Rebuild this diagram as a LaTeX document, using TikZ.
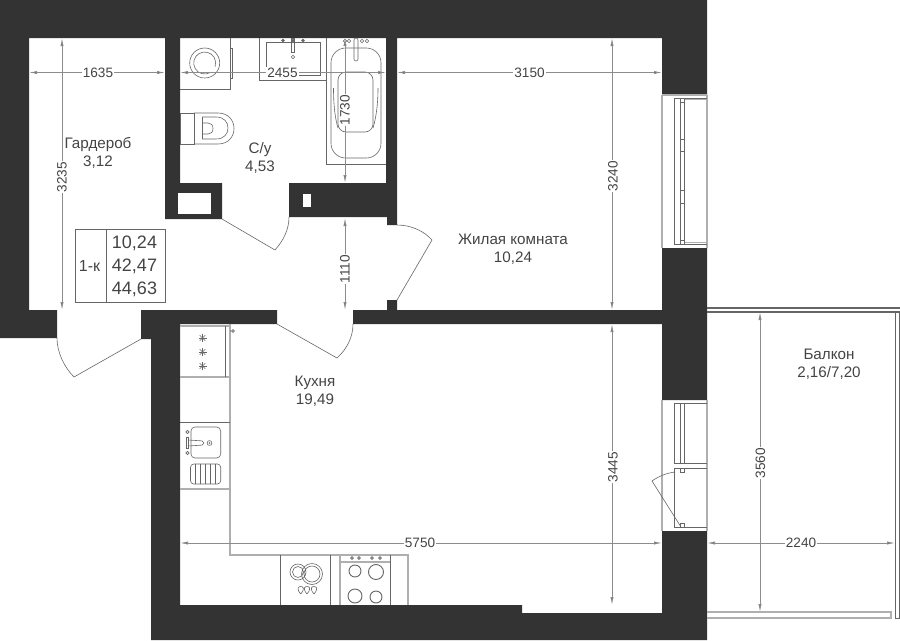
\documentclass[tikz,border=0pt]{standalone}
\usepackage{fontspec}
\setmainfont{Liberation Sans}
\usetikzlibrary{arrows.meta}
\definecolor{wallcolor}{HTML}{333333}
\definecolor{fixcolor}{HTML}{666666}
\definecolor{dimcolor}{HTML}{8C8C8C}
\definecolor{textcolor}{HTML}{444444}
\tikzset{
  wall/.style={fill=wallcolor,draw=none},
  fixture/.style={draw=fixcolor,line width=0.45pt},
  softline/.style={draw=dimcolor!70,line width=0.9pt},
  dimline/.style={draw=dimcolor,line width=0.6pt,{Latex[length=6pt,width=2.4pt,fill=fixcolor!70!black]}-{Latex[length=6pt,width=2.4pt,fill=fixcolor!70!black]}},
  dimtext/.style={fill=white,text=textcolor,inner sep=1pt,font=\fontsize{10.2}{12}\selectfont},
  roomtext/.style={text=textcolor,inner sep=0pt,align=center,font=\fontsize{11.4}{13.4}\selectfont},
  tabletext/.style={text=textcolor,inner sep=0pt,font=\fontsize{13.5}{16}\selectfont}
}
\begin{document}
\begin{tikzpicture}[x=0.75pt,y=-0.75pt]
 \useasboundingbox (0,0) rectangle (900,640);
 % walls
 \fill [wall] (0,0) -- (707,0) -- (707,95) -- (662,95) -- (662,38) -- (397,38) -- (397,225) -- (387,225) -- (387,217) -- (289,217) -- (289,183) -- (386,183) -- (386,38) -- (180,38) -- (180,183) -- (222,183) -- (222,219) -- (165,219) -- (165,38) -- (29,38) -- (29,310) -- (57,310) -- (57,338) -- (0,338) -- cycle;
 \fill [wall] (180,324) -- (180,605) -- (522,605) -- (522,613) -- (662,613) -- (662,531) -- (707,531) -- (707,640) -- (151,640) -- (151,339) -- (141,339) -- (141,310) -- (277,310) -- (277,324) -- cycle;
 \fill [wall] (387,300) -- (397,300) -- (397,310) -- (662,310) -- (662,248) -- (707,248) -- (707,400) -- (662,400) -- (662,324) -- (353,324) -- (353,310) -- (387,310) -- cycle;
 \fill [white] (178,193) rectangle (211,214);
 \fill [white] (303,194) rectangle (311,207);
 % doors
 \draw [fixture] (141,339) -- (74,377) .. controls (64,367) and (57,352) .. (57,338);
 \draw [fixture] (222,219) -- (275,250) .. controls (283,241) and (289,230) .. (289,217);
 \draw [fixture] (277,324) -- (337,358) .. controls (347,349) and (353,337) .. (353,324);
 \draw [fixture] (397,300) -- (432,240) .. controls (424,231) and (411,225) .. (397,225);
 % windows
 \draw [softline] (662,95) -- (662,248) (707,95) -- (707,248) (662,95) -- (707,95) (662,400) -- (662,531) (707,400) -- (707,531);
 \draw [fixture] (707,98) -- (674,98) -- (674,244) -- (707,244);
 \draw [softline,line width=0.5pt] (685,99.5) -- (707,99.5) (685,242.5) -- (707,242.5);
 \draw [fixture] (680,98) -- (680,244) (684.7,98) -- (684.7,244);
 \foreach \ticky in {102,139,151,190,203,240}
   \draw [fixture] (680,\ticky) -- (684.7,\ticky);
 \draw [fixture] (707,403) -- (674,403) -- (674,463) -- (707,463);
 \draw [fixture] (680,403) -- (680,463) (684.7,403) -- (684.7,463);
 \draw [fixture] (707,468) -- (674,468) -- (674,527) -- (707,527);
 \draw [fixture] (680,468) rectangle (684,472) (680,523) rectangle (684,527);
 \draw [fixture] (675,472) .. controls (667,473) and (659,476) .. (652,481) -- (681,527);
 % balcony
 \draw [softline,draw=fixcolor] (707,308) -- (900,308) (707,312) -- (900,312);
 \draw [fixture,line width=0.7pt] (895,312) -- (895,618) -- (900,618);
 \draw [fixture,line width=0.7pt] (899,312) -- (899,618);
 \draw [softline] (707,612) -- (891,612) -- (891,618) -- (707,618);
 % bathroom
 \draw [fixture] (180,89) -- (230,89) -- (230,38);
 \draw [fixture] (230,48) rectangle (232.5,78);
 \draw [fixture] (204.7,63) circle (15);
 \draw [fixture] (204.7,63) ++(60:11) arc (60:380:11);
 \draw [fixture] (194,113) -- (180.7,113) -- (180.7,144) -- (194,144) -- cycle;
 \draw [fixture] (194,113) -- (218,113) .. controls (228,113) and (234,120) .. (234,128.5) .. controls (234,137) and (228,144) .. (218,144) -- (194,144);
 \draw [fixture] (202.5,117) -- (216,117) .. controls (224,117) and (228,122) .. (228,128) .. controls (228,134) and (224,139) .. (216,139) -- (202.5,139) -- cycle;
 \draw [fixture] (202.5,123) -- (208,123) .. controls (211,123) and (213,125) .. (213,128.5) .. controls (213,132) and (211,134) .. (208,134) -- (202.5,134);
 \draw [fixture] (259,38) -- (259,80.7) -- (326.7,80.7);
 \draw [fixture] (266.7,42) rectangle (320,75);
 \draw [fixture] (291.7,38) rectangle (294,52);
 \draw [fixture] (293,57) circle (1.7);
 \foreach \knobx in {283,293,303}
   \fill [fixcolor] (\knobx,40.5) circle (1.8);
 \draw [fixture] (326.7,38) -- (326.7,164) -- (386,164);
 \draw [fixture,rounded corners=11pt] (331,48) rectangle (381,158);
 \draw [fixture,rounded corners=6pt] (338,72) rectangle (373,132);
 \draw [fixture,rounded corners=1.5pt] (354,38) rectangle (358,61);
 \foreach \knobx in {345,349,362,367}
   \draw [fixture] (\knobx,41) circle (1.8);
 \draw [fixture] (333.5,88) .. controls (333.5,105) and (335,118) .. (338,128);
 \draw [fixture] (378,88) .. controls (378,105) and (376,118) .. (373,128);
 % kitchen
 \draw [softline] (180,326) -- (230,326) (180,377) -- (230,377) (180,489) -- (230,489);
 \draw [softline] (230,324) -- (230,555) -- (408,555) -- (408,605);
 \draw [fixture] (180,422) -- (230,422);
 \draw [fixture] (225.5,326) -- (225.5,377);
 \draw [fixture] (233,331) circle (1.4) (230,331) -- (231.6,331);
 \foreach \staty in {338,352,366}
   \foreach \statangle in {0,45,90,135}
     \draw [fixture] (202.5,\staty) ++(\statangle:4) -- ++(\statangle+180:8);
 \draw [fixture,rounded corners=3pt] (191,427) rectangle (220.7,458);
 \draw [fixture] (186,437) rectangle (188,448);
 \draw [fixture,rounded corners=1.5pt] (188,440) -- (204,441) -- (204,445) -- (188,446);
 \draw [fixture] (209.5,443) circle (2.4);
 \fill [fixcolor] (209.5,443) circle (0.8);
 \draw [fixture] (187.5,432) circle (1.6) (187.5,453) circle (1.6);
 \draw [fixture,rounded corners=2.5pt] (190.5,464) rectangle (220.7,484);
 \foreach \linex in {195,200,205,210,215}
   \draw [fixture] (\linex,464) -- (\linex,484);
 \draw [fixture] (280.3,555) -- (280.3,605) (330.3,555) -- (330.3,605) (390.3,555) -- (390.3,605);
 \draw [softline] (340,555) -- (340,605) (340,562) -- (390.3,562);
 \foreach \knobx in {352,359,372,380}
   \draw [fixture,fill=fixcolor!60] (\knobx,558) circle (1.5);
 \draw [fixture,line width=0.7pt] (355,571) circle (6) (376,572) circle (7.5) (355,596) circle (7) (376,597) circle (6);
 \draw [fixture] (298,572) circle (8) (298,572) circle (5.5) (312,574) circle (10.5) (312,574) circle (8);
 \foreach \dropx in {300.7,307,314}
   \draw [fixture] (\dropx,594) .. controls (\dropx-5,588) and (\dropx-2,586.5) .. (\dropx,586.5) .. controls (\dropx+2,586.5) and (\dropx+5,588) .. (\dropx,594);
 % dimensions
 \draw [dimline] (29,72.5) -- (165,72.5);
 \node [dimtext] (dimgarderobw) at (98,72.5) {1635};
 \draw [dimline] (180,72.5) -- (386,72.5);
 \node [dimtext] (dimbathw) at (282.5,73) {2455};
 \draw [dimline] (397,72.5) -- (662,72.5);
 \node [dimtext] (dimroomw) at (529.5,72.5) {3150};
 \draw [dimline] (62,38) -- (62,310);
 \node [dimtext,rotate=90] (dimgarderobh) at (62,177) {3235};
 \draw [dimline] (345,38) -- (345,183);
 \node [dimtext,rotate=90] (dimbathh) at (345,110) {1730};
 \draw [dimline] (345,218) -- (345,310);
 \node [dimtext,rotate=90] (dimhallh) at (345,269) {1110};
 \draw [dimline] (612,38) -- (612,310);
 \node [dimtext,rotate=90] (dimroomh) at (613,176) {3240};
 \draw [dimline] (612,324) -- (612,605);
 \node [dimtext,rotate=90] (dimkitchenh) at (613,467) {3445};
 \draw [dimline] (180,543) -- (662,543);
 \node [dimtext] (dimkitchenw) at (420,543) {5750};
 \draw [dimline] (707,543) -- (895,543);
 \node [dimtext] (dimbalconyw) at (801,543) {2240};
 \draw [dimline] (760,312) -- (760,612);
 \node [dimtext,rotate=90] (dimbalconyh) at (760.5,463) {3560};
 % rooms
 \node [roomtext] (garderob) at (98,152.5) {Гардероб\\3,12};
 \node [roomtext] (bath) at (260,158) {С/у\\4,53};
 \node [roomtext] (room) at (513,249.5) {Жилая комната\\10,24};
 \node [roomtext] (kitchen) at (315,391) {Кухня\\19,49};
 \node [roomtext] (balcony) at (829,364) {Балкон\\2,16/7,20};
 % table
 \draw [fixture] (75,229) rectangle (165,302) (106.5,229) -- (106.5,302);
 \node [tabletext,font=\fontsize{12}{14}\selectfont] (flattype) at (89.5,266) {1-к};
 \node [tabletext] (livearea) at (134.5,243) {10,24};
 \node [tabletext] (flatarea) at (134.5,266) {42,47};
 \node [tabletext] (fullarea) at (134.5,289) {44,63};
\end{tikzpicture}
\end{document}
